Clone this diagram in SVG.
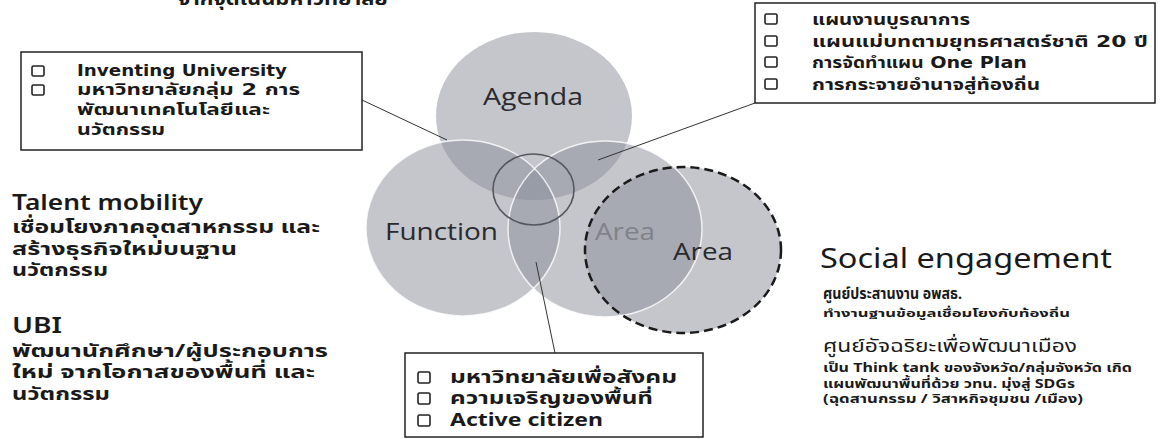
<svg xmlns="http://www.w3.org/2000/svg" width="1161" height="439" viewBox="0 0 1161 439">
<style>
.box{fill:#fff;stroke:#222;stroke-width:1.5}
.cb{fill:none;stroke:#222;stroke-width:1.6}
.bt{font-family:"DejaVu Sans","Noto Sans Thai","Noto Sans",sans-serif;font-weight:bold;font-size:15px;fill:#1a1a1a}
.bb{font-family:"Noto Sans","Noto Sans Thai","DejaVu Sans",sans-serif;font-weight:bold;font-size:17px;fill:#1a1a1a}
.lt{font-family:"Noto Sans","Noto Sans Thai","DejaVu Sans",sans-serif;fill:#1a1a1a}
.circ{fill:#8a8d9a;fill-opacity:0.5}
.edge{fill:none;stroke:#fff;stroke-width:1.5;stroke-opacity:0.8}
.clab{font-family:"Open Sans","Noto Sans",sans-serif;font-size:24px;fill:#2a2a2e}
.conn{stroke:#333;stroke-width:1;fill:none}
</style>
<rect width="1161" height="439" fill="#fff"/>
<text x="178" y="5" class="lt" font-weight="bold" font-size="18" textLength="210" lengthAdjust="spacingAndGlyphs">จากจุดเน้นมหาวิทยาลัย</text>

<g id="venn">
<ellipse class="circ" cx="534" cy="116" rx="98" ry="84"/>
<ellipse class="circ" cx="463" cy="228" rx="97" ry="88"/>
<ellipse class="circ" cx="605" cy="229" rx="97" ry="88"/>
<ellipse class="circ" cx="683" cy="250" rx="98" ry="83"/>
<ellipse class="edge" cx="463" cy="228" rx="97" ry="88"/>
<ellipse class="edge" cx="605" cy="229" rx="97" ry="88"/>
<ellipse fill="none" stroke="#1a1a1a" stroke-width="2.5" stroke-dasharray="9,5" cx="683" cy="250" rx="98" ry="83"/>
<ellipse fill="none" stroke="#55575e" stroke-width="1.6" cx="533.5" cy="189.5" rx="40.5" ry="35.5"/>
</g>
<g id="labels">
<text class="clab" x="483" y="105" textLength="100" lengthAdjust="spacingAndGlyphs">Agenda</text>
<text class="clab" x="385" y="240" textLength="113" lengthAdjust="spacingAndGlyphs">Function</text>
<text class="clab" x="595" y="240" textLength="60" lengthAdjust="spacingAndGlyphs" style="fill:#80828a">Area</text>
<text class="clab" x="673" y="260" textLength="60" lengthAdjust="spacingAndGlyphs">Area</text>
</g>

<g id="connectors">
<line class="conn" x1="362" y1="100" x2="447" y2="140"/>
<line class="conn" x1="755" y1="103" x2="598" y2="160"/>
<line class="conn" x1="536" y1="262" x2="555" y2="353"/>
</g>

<g id="box-left">
<rect class="box" x="21" y="52" width="341" height="98"/>
<rect class="cb" x="32" y="66" width="12" height="10" rx="1.5"/>
<rect class="cb" x="32" y="85" width="12" height="10" rx="1.5"/>
<text class="bt" x="77" y="76" textLength="210" lengthAdjust="spacingAndGlyphs">Inventing University</text>
<text class="bt" x="77" y="95" textLength="223" lengthAdjust="spacingAndGlyphs">มหาวิทยาลัยกลุ่ม 2  การ</text>
<text class="bt" x="77" y="115" textLength="193" lengthAdjust="spacingAndGlyphs">พัฒนาเทคโนโลยีและ</text>
<text class="bt" x="77" y="135" textLength="88" lengthAdjust="spacingAndGlyphs">นวัตกรรม</text>
</g>

<g id="box-right">
<rect class="box" x="755" y="3" width="400" height="100"/>
<rect class="cb" x="765" y="14" width="12" height="10" rx="1.5"/>
<rect class="cb" x="765" y="36" width="12" height="10" rx="1.5"/>
<rect class="cb" x="765" y="57" width="12" height="10" rx="1.5"/>
<rect class="cb" x="765" y="79" width="12" height="10" rx="1.5"/>
<text class="bt" x="812" y="25" textLength="158" lengthAdjust="spacingAndGlyphs">แผนงานบูรณาการ</text>
<text class="bt" x="812" y="47" textLength="336" lengthAdjust="spacingAndGlyphs">แผนแม่บทตามยุทธศาสตร์ชาติ 20 ปี</text>
<text class="bt" x="812" y="68" textLength="215" lengthAdjust="spacingAndGlyphs">การจัดทำแผน One Plan</text>
<text class="bt" x="812" y="90" textLength="228" lengthAdjust="spacingAndGlyphs">การกระจายอำนาจสู่ท้องถิ่น</text>
</g>

<g id="box-bottom">
<rect class="box" x="405" y="353" width="298" height="84"/>
<rect class="cb" x="418" y="372" width="12" height="11" rx="1.5"/>
<rect class="cb" x="418" y="393" width="12" height="11" rx="1.5"/>
<rect class="cb" x="418" y="415" width="12" height="11" rx="1.5"/>
<text class="bb" x="450" y="383" textLength="227" lengthAdjust="spacingAndGlyphs">มหาวิทยาลัยเพื่อสังคม</text>
<text class="bb" x="450" y="404" textLength="203" lengthAdjust="spacingAndGlyphs">ความเจริญของพื้นที่</text>
<text class="bb" x="450" y="426" textLength="153" lengthAdjust="spacingAndGlyphs">Active citizen</text>
</g>

<g id="talent">
<text class="lt" x="12" y="210" font-size="22" font-weight="600" textLength="191" lengthAdjust="spacingAndGlyphs">Talent mobility</text>
<text class="lt" x="12" y="233" font-size="18" font-weight="bold" textLength="308" lengthAdjust="spacingAndGlyphs">เชื่อมโยงภาคอุตสาหกรรม และ</text>
<text class="lt" x="12" y="255" font-size="18" font-weight="bold" textLength="225" lengthAdjust="spacingAndGlyphs">สร้างธุรกิจใหม่บนฐาน</text>
<text class="lt" x="12" y="276" font-size="18" font-weight="bold" textLength="96" lengthAdjust="spacingAndGlyphs">นวัตกรรม</text>
</g>

<g id="ubi">
<text class="lt" x="12" y="333" font-size="21" font-weight="600" textLength="50" lengthAdjust="spacingAndGlyphs">UBI</text>
<text class="lt" x="12" y="357" font-size="18" font-weight="bold" textLength="316" lengthAdjust="spacingAndGlyphs">พัฒนานักศึกษา/ผู้ประกอบการ</text>
<text class="lt" x="12" y="378" font-size="18" font-weight="bold" textLength="303" lengthAdjust="spacingAndGlyphs">ใหม่ จากโอกาสของพื้นที่ และ</text>
<text class="lt" x="12" y="400" font-size="18" font-weight="bold" textLength="98" lengthAdjust="spacingAndGlyphs">นวัตกรรม</text>
</g>

<g id="social">
<text class="lt" x="820" y="268" font-size="28" textLength="292" lengthAdjust="spacingAndGlyphs">Social engagement</text>
<text class="lt" x="823" y="299" font-size="15" font-weight="bold" textLength="139" lengthAdjust="spacingAndGlyphs">ศูนย์ประสานงาน อพสธ.</text>
<text class="lt" x="823" y="317" font-size="11" font-weight="bold" textLength="247" lengthAdjust="spacingAndGlyphs">ทำงานฐานข้อมูลเชื่อมโยงกับท้องถิ่น</text>
<text class="lt" x="823" y="352" font-size="18" textLength="254" lengthAdjust="spacingAndGlyphs">ศูนย์อัจฉริยะเพื่อพัฒนาเมือง</text>
<text class="lt" x="823" y="372" font-size="12.5" font-weight="bold" textLength="309" lengthAdjust="spacingAndGlyphs">เป็น Think tank ของจังหวัด/กลุ่มจังหวัด เกิด</text>
<text class="lt" x="823" y="388" font-size="12.5" font-weight="bold" textLength="252" lengthAdjust="spacingAndGlyphs">แผนพัฒนาพื้นที่ด้วย วทน. มุ่งสู่ SDGs</text>
<text class="lt" x="823" y="403" font-size="12.5" font-weight="bold" textLength="260" lengthAdjust="spacingAndGlyphs">(ฉุดสานกรรม / วิสาหกิจชุมชน /เมือง)</text>
</g>
</svg>
